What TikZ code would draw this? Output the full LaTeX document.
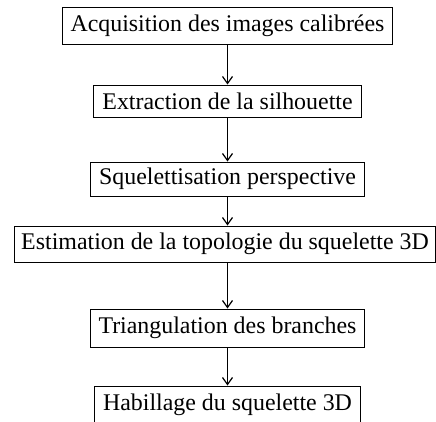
\documentclass[tikz,border=0pt]{standalone}
\usepackage{fontspec}
\setmainfont{Liberation Serif}
\usetikzlibrary{arrows.meta}
\begin{document}
\begin{tikzpicture}[x=1pt,y=1pt,
  stepbox/.style={draw, line width=1pt, inner xsep=8.5pt, inner ysep=0pt, minimum height=36pt, font=\fontsize{23.9}{26}\selectfont, anchor=center},
  flow/.style={line width=1.3pt, -{Straight Barb[length=7pt,width=10pt,line width=1.2pt]}}]
\useasboundingbox (0,0) rectangle (436,-421);
\clip (0,0) rectangle (436,-421);
\node[stepbox, minimum height=37pt] (a) at (227.5,-25.5) {Acquisition des images calibrées};
\node[stepbox, minimum height=32pt] (b) at (227.5,-101) {Extraction de la silhouette};
\node[stepbox, minimum height=34pt] (c) at (227.5,-179) {Squelettisation perspective};
\node[stepbox, minimum height=36pt, inner xsep=6.5pt] (d) at (225,-244) {Estimation de la topologie du squelette 3D};
\node[stepbox, minimum height=38pt] (e) at (227.5,-328) {Triangulation des branches};
\node[stepbox, minimum height=38pt] (f) at (227.5,-405) {Habillage du squelette 3D};
\draw[flow] (a.south) -- (b.north);
\draw[flow] (b.south) -- (c.north);
\draw[flow] (c.south) -- (c.south |- d.north);
\draw[flow] (c.south |- d.south) -- (e.north);
\draw[flow] (e.south) -- (f.north);
\end{tikzpicture}
\end{document}
